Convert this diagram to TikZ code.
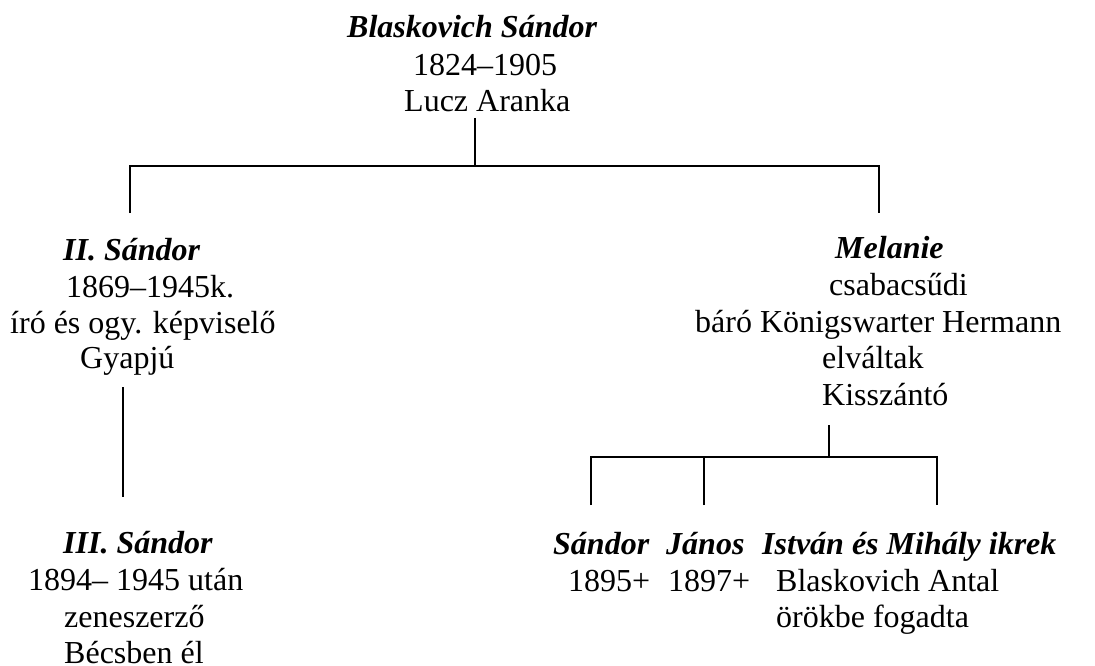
\documentclass[tikz,border=0pt]{standalone}
\usepackage{fontspec}
\setmainfont{Liberation Serif}
\begin{document}
\begin{tikzpicture}[x=1pt,y=-1pt,
  txt/.style={anchor=base west,inner sep=0pt,font=\fontsize{32}{36}\selectfont},
  nm/.style={txt,font=\fontsize{32}{36}\selectfont\bfseries\itshape},
  conn/.style={line width=1.6pt,line cap=butt}]
\useasboundingbox (0,0) rectangle (1095,666);
% top
\node[nm]  (t1) at (347,38)  {Blaskovich Sándor};
\node[txt] (t2) at (413,76)  {1824–1905};
\node[txt] (t3) at (404,112) {Lucz Aranka};
% left
\node[nm]  (l1) at (63,260)  {II. Sándor};
\node[txt] (l2) at (66,297)  {1869–1945k.};
\node[txt] (l3) at (10,333)  {író és ogy. képviselő};
\node[txt] (l4) at (80,368)  {Gyapjú};
\node[nm]  (g1) at (63,553)  {III. Sándor};
\node[txt] (g2) at (28,590)  {1894– 1945 után};
\node[txt] (g3) at (64,627)  {zeneszerző};
\node[txt] (g4) at (64,663)  {Bécsben él};
% right
\node[nm]  (r1) at (835,258) {Melanie};
\node[txt] (r2) at (829,295) {csabacsűdi};
\node[txt] (r3) at (695,332) {báró Königswarter Hermann};
\node[txt] (r4) at (822,368) {elváltak};
\node[txt] (r5) at (822,405) {Kisszántó};
\node[nm]  (k1) at (553,554) {Sándor};
\node[txt] (k1b) at (568,591) {1895+};
\node[nm]  (k2) at (666,554) {János};
\node[txt] (k2b) at (668,591) {1897+};
\node[nm]  (k3) at (762,554) {István és Mihály ikrek};
\node[txt] (k3b) at (776,591) {Blaskovich Antal};
\node[txt] (k3c) at (776,627) {örökbe fogadta};
% connector points
\coordinate (pA) at (475,118);
\coordinate (jA) at (475,166);
\coordinate (cL) at (130,213);
\coordinate (cR) at (879,213);
\coordinate (pB) at (123,387);
\coordinate (cB) at (123,497);
\coordinate (pC) at (829,425);
\coordinate (jC) at (829,457);
\coordinate (c1) at (591,505);
\coordinate (c2) at (704,505);
\coordinate (c3) at (937,505);
\draw[conn] (pA) -- (jA);
\draw[conn] (cL) |- (jA) -| (cR);
\draw[conn] (pB) -- (cB);
\draw[conn] (pC) -- (jC);
\draw[conn] (c1) |- (jC) -| (c3);
\draw[conn] (c2) -- (c2 |- jC);
\end{tikzpicture}
\end{document}
